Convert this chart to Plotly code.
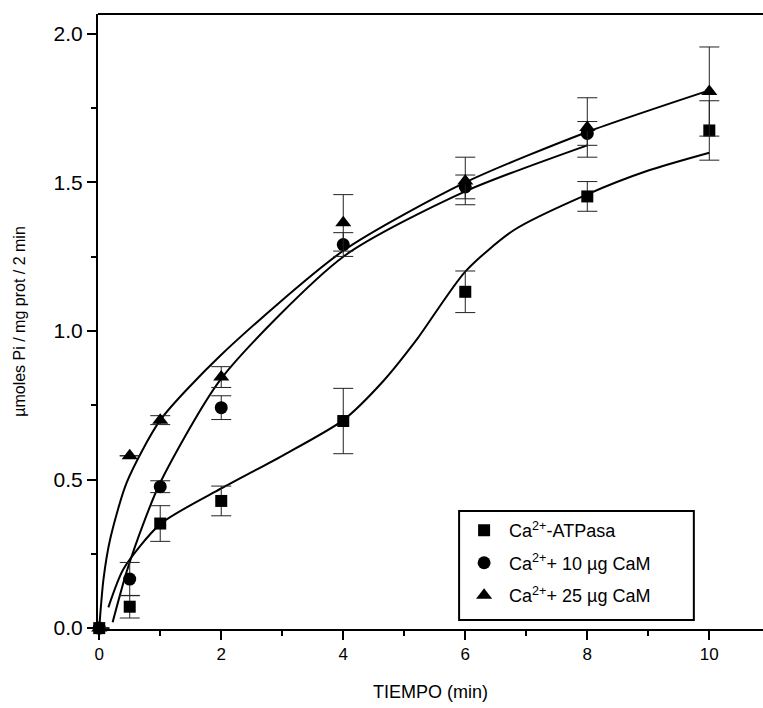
import plotly.graph_objects as go

# ---- measured data (time in min, µmol Pi / mg prot / 2 min) ----
time_sq = [0, 0.5, 1, 2, 4, 6, 8, 10]
atpasa = [0.0, 0.072, 0.352, 0.428, 0.697, 1.132, 1.453, 1.675]
atpasa_err = [0.0, 0.038, 0.06, 0.05, 0.11, 0.07, 0.05, 0.10]

time_ci = [0, 0.5, 1, 2, 4, 6, 8]
cam10 = [0.0, 0.165, 0.476, 0.742, 1.291, 1.485, 1.665]
cam10_err = [0.0, 0.056, 0.02, 0.04, 0.04, 0.04, 0.04]

time_tr = [0, 0.5, 1, 2, 4, 6, 8, 10]
cam25 = [0.0, 0.58, 0.70, 0.845, 1.364, 1.505, 1.685, 1.806]
cam25_err = [0.0, 0.0, 0.015, 0.035, 0.095, 0.08, 0.10, 0.15]

# fitted curves
fit_sq_x = [0.15, 0.4, 1.0, 2.0, 3.0, 4.0, 4.65, 5.2, 6.0, 6.8, 8.0, 9.0, 10.0]
fit_sq_y = [0.07, 0.20, 0.35, 0.47, 0.58, 0.70, 0.83, 0.97, 1.20, 1.34, 1.46, 1.54, 1.60]
fit_ci_x = [0.22, 0.45, 0.73, 1.0, 2.0, 4.0, 6.0, 8.0]
fit_ci_y = [0.02, 0.19, 0.355, 0.49, 0.84, 1.25, 1.47, 1.625]
fit_tr_x = [0.0, 0.07, 0.18, 0.45, 1.0, 2.0, 4.0, 6.0, 8.0, 10.0]
fit_tr_y = [0.0, 0.165, 0.30, 0.49, 0.70, 0.92, 1.27, 1.50, 1.67, 1.81]

x_ticks = [0, 2, 4, 6, 8, 10]
y_ticks = [0.0, 0.5, 1.0, 1.5, 2.0]
y_tick_text = ["0.0", "0.5", "1.0", "1.5", "2.0"]

FONT = "Arial, Liberation Sans, sans-serif"
fig = go.Figure()

for fx, fy in [(fit_sq_x, fit_sq_y), (fit_ci_x, fit_ci_y), (fit_tr_x, fit_tr_y)]:
    fig.add_trace(go.Scatter(x=fx, y=fy, mode="lines",
                             line=dict(color="black", width=2, shape="spline", smoothing=0.7),
                             showlegend=False, hoverinfo="skip", cliponaxis=False))

def add_pts(x, y, err, symbol, size, name, grp):
    fig.add_trace(go.Scatter(
        x=x, y=y, mode="markers", name=name, legendgroup=grp,
        marker=dict(symbol=symbol, size=size, color="black"),
        error_y=dict(type="data", array=err, visible=True, color="#222", thickness=1, width=10),
        cliponaxis=False))

add_pts(time_sq, atpasa, atpasa_err, "square", 12, "Ca<sup>2+</sup>-ATPasa", "a")
add_pts(time_ci, cam10, cam10_err, "circle", 13, "Ca<sup>2+</sup>+ 10 µg CaM", "b")
add_pts(time_tr, cam25, cam25_err, "triangle-up", 14, "Ca<sup>2+</sup>+ 25 µg CaM", "c")

fig.update_layout(
    width=763, height=708,
    margin=dict(l=98, r=0, t=14, b=79),
    paper_bgcolor="white", plot_bgcolor="white",
    font=dict(family=FONT, color="black"),
    showlegend=True,
    legend=dict(x=0.543, y=0.19, xanchor="left", yanchor="top",
                borderwidth=0, bgcolor="rgba(0,0,0,0)",
                font=dict(size=18, family=FONT), tracegroupgap=6, itemwidth=40),
    xaxis=dict(range=[-0.02, 10.88], tickvals=x_ticks, ticks="outside", ticklen=9, tickwidth=1.5,
               tickcolor="black", showline=True, linecolor="black", linewidth=2, showgrid=False,
               zeroline=False, tickfont=dict(size=17),
               minor=dict(dtick=1, ticks="outside", ticklen=5, tickcolor="black", tickwidth=1.5),
               title=dict(text="TIEMPO (min)", font=dict(size=18), standoff=22)),
    yaxis=dict(range=[-0.003, 2.067], tickvals=y_ticks, ticktext=y_tick_text, ticks="outside", ticklen=9,
               tickwidth=1.5, tickcolor="black", showline=True, linecolor="black", linewidth=2,
               showgrid=False, zeroline=False, tickfont=dict(size=21),
               minor=dict(dtick=0.25, ticks="outside", ticklen=5, tickcolor="black", tickwidth=1.5),
               title=dict(text="µmoles Pi / mg prot / 2 min", font=dict(size=16), standoff=24)),
    shapes=[
        dict(type="line", xref="paper", yref="paper", x0=0, x1=1, y0=1, y1=1,
             line=dict(color="black", width=2)),
        dict(type="rect", xref="paper", yref="paper", x0=0.543, x1=0.896, y0=0.0146, y1=0.192,
             line=dict(color="black", width=2), fillcolor="white", layer="above"),
    ],
)

fig.write_html("out.html", config={"displayModeBar": False},
               post_script="document.body.style.margin='0';document.body.style.overflow='hidden';")
